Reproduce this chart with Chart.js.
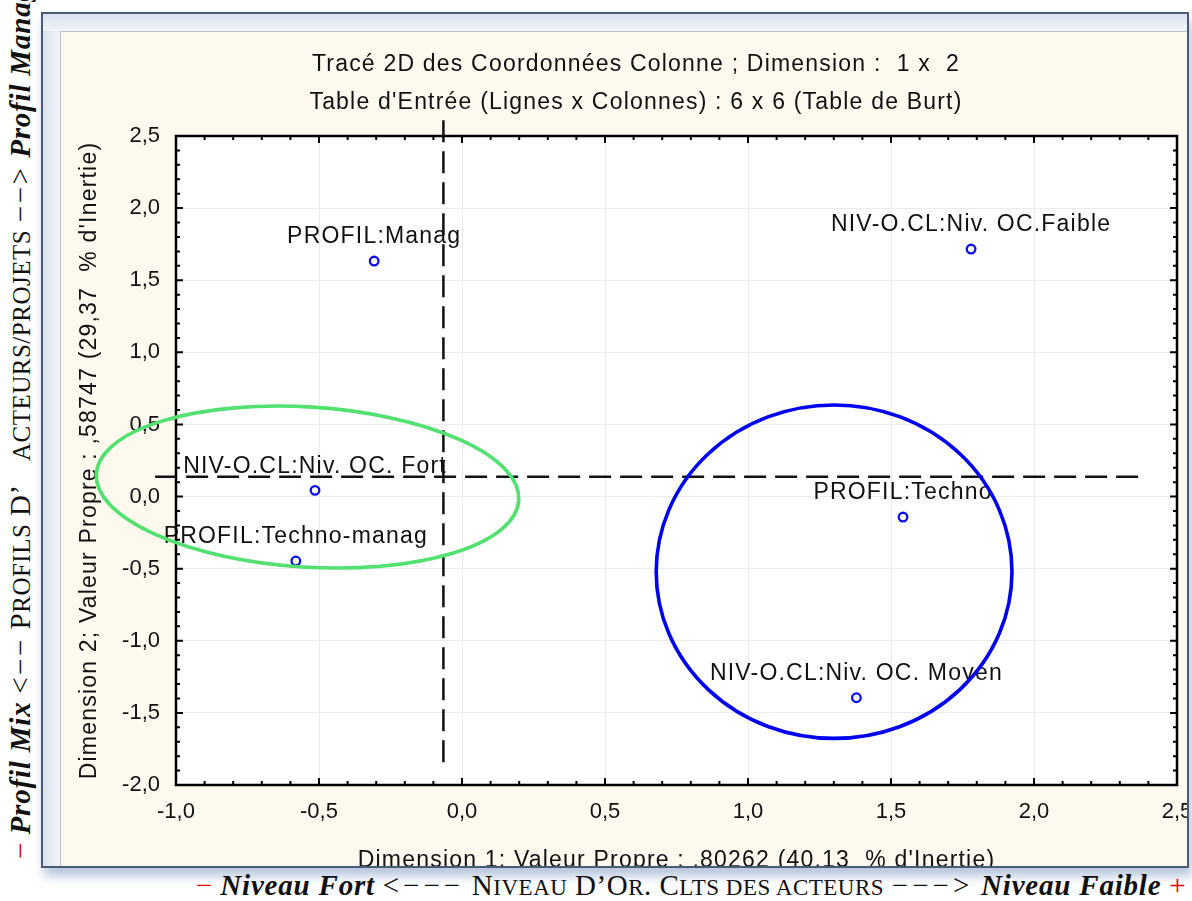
<!DOCTYPE html>
<html lang="fr">
<head>
<meta charset="UTF-8">
<title>Tracé 2D des Coordonnées Colonne</title>
<script src="https://cdn.jsdelivr.net/npm/chart.js@4.4.1/dist/chart.umd.min.js"></script>
<style>
    body { margin: 0; background: #fff; width: 1192px; height: 901px; position: relative; overflow: hidden; }
    #frame {
        position: absolute; left: 41px; top: 12px; width: 1144px; height: 852px;
        border: 2px solid #4b5b74;
        background: linear-gradient(to bottom, #d8e2ee, #f1f5f9 17px, transparent 17px),
                    linear-gradient(to right, #d8e2ee, #f1f5f9 17px);
        box-shadow: 3px 8px 10px rgba(70, 110, 170, 0.4);
    }
    #panel {
        position: absolute; left: 17px; top: 17px; right: 0; bottom: 0;
        background: #fdf9ef; border-left: 1px solid #b9bfc8; border-top: 1px solid #b9bfc8;
        overflow: hidden;
    }
    #panel canvas { position: absolute; left: 0; top: 0; }
    .note { position: absolute; font-family: 'Liberation Serif', 'Times New Roman', serif; font-size: 29px; line-height: 32px;
            letter-spacing: 0.5px; white-space: nowrap; color: #111; }
    .note .red { color: #e00000; }
    .note b { letter-spacing: 0.8px; }
    #xnote { right: 6px; top: 869px; }
    #xnote .s { font-size: 23px; }
    #xnote .arr { letter-spacing: 4px; }
    #ynote { left: 4px; top: 859px; transform-origin: 0 0; transform: rotate(-90deg); }
    #ynote .s { font-size: 25px; }
    #ynote .arr { letter-spacing: 2.5px; }
</style>
</head>
<body>
<div id="frame">
    <div id="panel">
        <canvas id="ca" width="1150" height="860"></canvas>
    </div>
</div>
<div class="note" id="ynote"><span class="red">−</span> <b><i>Profil Mix</i></b> <span class="arr">&lt;−−</span> P<span class="s">ROFILS</span> D’&nbsp;&nbsp; <span class="s">ACTEURS/PROJETS</span> <span class="arr">−−&gt;</span> <b><i>Profil Manag</i></b></div>
<div class="note" id="xnote"><span class="red">−</span> <b><i>Niveau Fort</i></b> <span class="arr">&lt;−−−</span> N<span class="s">IVEAU</span> D’O<span class="s">R</span>. C<span class="s">LTS DES ACTEURS</span> <span class="arr">−−−&gt;</span> <b><i>Niveau Faible</i></b> <span class="red">+</span></div>

<script>
// coordonnées colonne
const pointLabels = ['PROFIL:Manag', 'NIV-O.CL:Niv. OC.Faible', 'NIV-O.CL:Niv. OC. Fort',
                     'PROFIL:Techno-manag', 'PROFIL:Techno', 'NIV-O.CL:Niv. OC. Moyen'];
const dim1 = [-0.307, 1.780, -0.514, -0.581, 1.542, 1.379];
const dim2 = [1.633, 1.716, 0.043, -0.447, -0.142, -1.395];

// lignes pointillées (axes de référence)
const vLineX = [-0.065, -0.065];
const vLineY = [2.61, -1.90];
const hLineX = [-1.073, 2.385];
const hLineY = [0.137, 0.137];

// ellipses de regroupement: centre, demi-axes (unités des axes), inclinaison
const ellipses = [
    { cx: -0.540, cy: 0.066, rx: 0.740, ry: 0.555, tilt: 3.6, color: '#52e070' },
    { cx: 1.301, cy: -0.521, rx: 0.622, ry: 1.156, tilt: 0, color: '#0000f0' }
];

const xMin = -1.0, xMax = 2.5, yMin = -2.0, yMax = 2.5, majorStep = 0.5, minorStep = 0.1;

const titleLines = ['Tracé 2D des Coordonnées Colonne ; Dimension :  1 x  2',
                    "Table d'Entrée (Lignes x Colonnes) : 6 x 6 (Table de Burt)"];
const xTitle = "Dimension 1; Valeur Propre : ,80262 (40,13  % d'Inertie)";
const yTitle = "Dimension 2; Valeur Propre : ,58747 (29,37  % d'Inertie)";

const SANS = "'Liberation Sans', Arial, sans-serif";
const SPACING = '1.2px';
Chart.defaults.font.family = SANS;
Chart.defaults.color = '#111';

function fmt(v) { return Number(v).toFixed(1).replace('.', ','); }

function zip(xs, ys) { return xs.map((x, i) => ({ x: x, y: ys[i] })); }

const decor = {
    id: 'decor',
    afterLayout(chart) {
        // no letter spacing on tick labels
        ['x', 'y'].forEach(id => {
            const s = chart.scales[id];
            if (s._wrapped) return;
            const orig = s.drawLabels;
            s.drawLabels = function (area) {
                const c = this.ctx;
                c.letterSpacing = '0px';
                orig.call(this, area);
                c.letterSpacing = SPACING;
            };
            s._wrapped = true;
        });
    },
    beforeDraw(chart) {
        const ctx = chart.ctx, a = chart.chartArea;
        ctx.letterSpacing = SPACING;
        ctx.save();
        ctx.fillStyle = '#fff';
        ctx.fillRect(a.left, a.top, a.right - a.left, a.bottom - a.top);
        ctx.restore();
    },
    afterDatasetsDraw(chart) {
        const ctx = chart.ctx;
        const meta = chart.getDatasetMeta(2);
        ctx.save();
        ctx.letterSpacing = SPACING;
        ctx.font = '23px ' + SANS;
        ctx.fillStyle = '#111';
        ctx.textAlign = 'center';
        ctx.textBaseline = 'middle';
        meta.data.forEach((pt, i) => {
            ctx.fillText(pointLabels[i], pt.x, pt.y - 24);
        });
        ctx.restore();
    },
    afterDraw(chart) {
        const ctx = chart.ctx, a = chart.chartArea;
        const xs = chart.scales.x, ys = chart.scales.y;
        ctx.save();
        ctx.strokeStyle = '#000';
        ctx.lineWidth = 2;
        // inward ticks on the four sides
        const nx = Math.round((xMax - xMin) / minorStep);
        for (let k = 0; k <= nx; k++) {
            const px = xs.getPixelForValue(xMin + k * minorStep);
            const len = k % 5 === 0 ? 7 : 4;
            ctx.beginPath();
            ctx.moveTo(px, a.bottom); ctx.lineTo(px, a.bottom - len);
            ctx.moveTo(px, a.top); ctx.lineTo(px, a.top + len);
            ctx.stroke();
        }
        const ny = Math.round((yMax - yMin) / minorStep);
        for (let k = 0; k <= ny; k++) {
            const py = ys.getPixelForValue(yMin + k * minorStep);
            const len = k % 5 === 0 ? 7 : 4;
            ctx.beginPath();
            ctx.moveTo(a.left, py); ctx.lineTo(a.left + len, py);
            ctx.moveTo(a.right, py); ctx.lineTo(a.right - len, py);
            ctx.stroke();
        }
        ctx.lineWidth = 2.5;
        ctx.strokeRect(a.left, a.top, a.right - a.left, a.bottom - a.top);

        // ellipses
        ellipses.forEach(e => {
            const cx = xs.getPixelForValue(e.cx), cy = ys.getPixelForValue(e.cy);
            const rx = Math.abs(xs.getPixelForValue(e.cx + e.rx) - cx);
            const ry = Math.abs(ys.getPixelForValue(e.cy + e.ry) - cy);
            ctx.beginPath();
            ctx.ellipse(cx, cy, rx, ry, e.tilt * Math.PI / 180, 0, 2 * Math.PI);
            ctx.strokeStyle = e.color;
            ctx.lineWidth = 3.6;
            ctx.stroke();
        });
        ctx.restore();
    }
};

new Chart(document.getElementById('ca'), {
    type: 'scatter',
    data: {
        datasets: [
            {
                data: zip(vLineX, vLineY), showLine: true, clip: false,
                borderColor: '#111', borderWidth: 2.5, borderDash: [22, 9], pointRadius: 0
            },
            {
                data: zip(hLineX, hLineY), showLine: true, clip: false,
                borderColor: '#111', borderWidth: 2.5, borderDash: [22, 9], pointRadius: 0
            },
            {
                data: zip(dim1, dim2), clip: false,
                pointRadius: 4.3, pointBorderWidth: 2.3,
                pointBackgroundColor: 'rgba(255,255,255,0)', pointBorderColor: '#0a0aff'
            }
        ]
    },
    options: {
        responsive: false,
        animation: false,
        devicePixelRatio: 1,
        layout: { padding: 0 },
        plugins: {
            legend: { display: false },
            tooltip: { enabled: false },
            title: {
                display: true,
                text: titleLines,
                color: '#111',
                font: { size: 23, weight: 'normal', lineHeight: 38 / 23 },
                padding: { top: 14, bottom: 14 }
            }
        },
        scales: {
            x: {
                type: 'linear', min: xMin, max: xMax,
                ticks: { stepSize: majorStep, padding: 14, font: { size: 22 }, color: '#111', callback: fmt },
                grid: { color: '#ebebeb', lineWidth: 1, drawTicks: false },
                border: { display: false },
                title: { display: true, text: xTitle, color: '#111', font: { size: 23, lineHeight: 1 }, padding: { top: 0, bottom: 19.5 } },
                afterFit: s => { s.height = 107; }
            },
            y: {
                type: 'linear', min: yMin, max: yMax,
                ticks: { stepSize: majorStep, padding: 16, font: { size: 22 }, color: '#111', callback: fmt },
                grid: { color: '#ebebeb', lineWidth: 1, drawTicks: false },
                border: { display: false },
                title: { display: true, text: yTitle, color: '#111', font: { size: 23, lineHeight: 1 }, padding: { top: 17, bottom: 0 } },
                afterFit: s => { s.width = 115; }
            },
            yr: {
                type: 'linear', position: 'right', min: yMin, max: yMax,
                ticks: { display: false },
                grid: { display: false, drawTicks: false },
                border: { display: false },
                afterFit: s => { s.width = 34; }
            }
        }
    },
    plugins: [decor]
});
</script>
</body>
</html>
